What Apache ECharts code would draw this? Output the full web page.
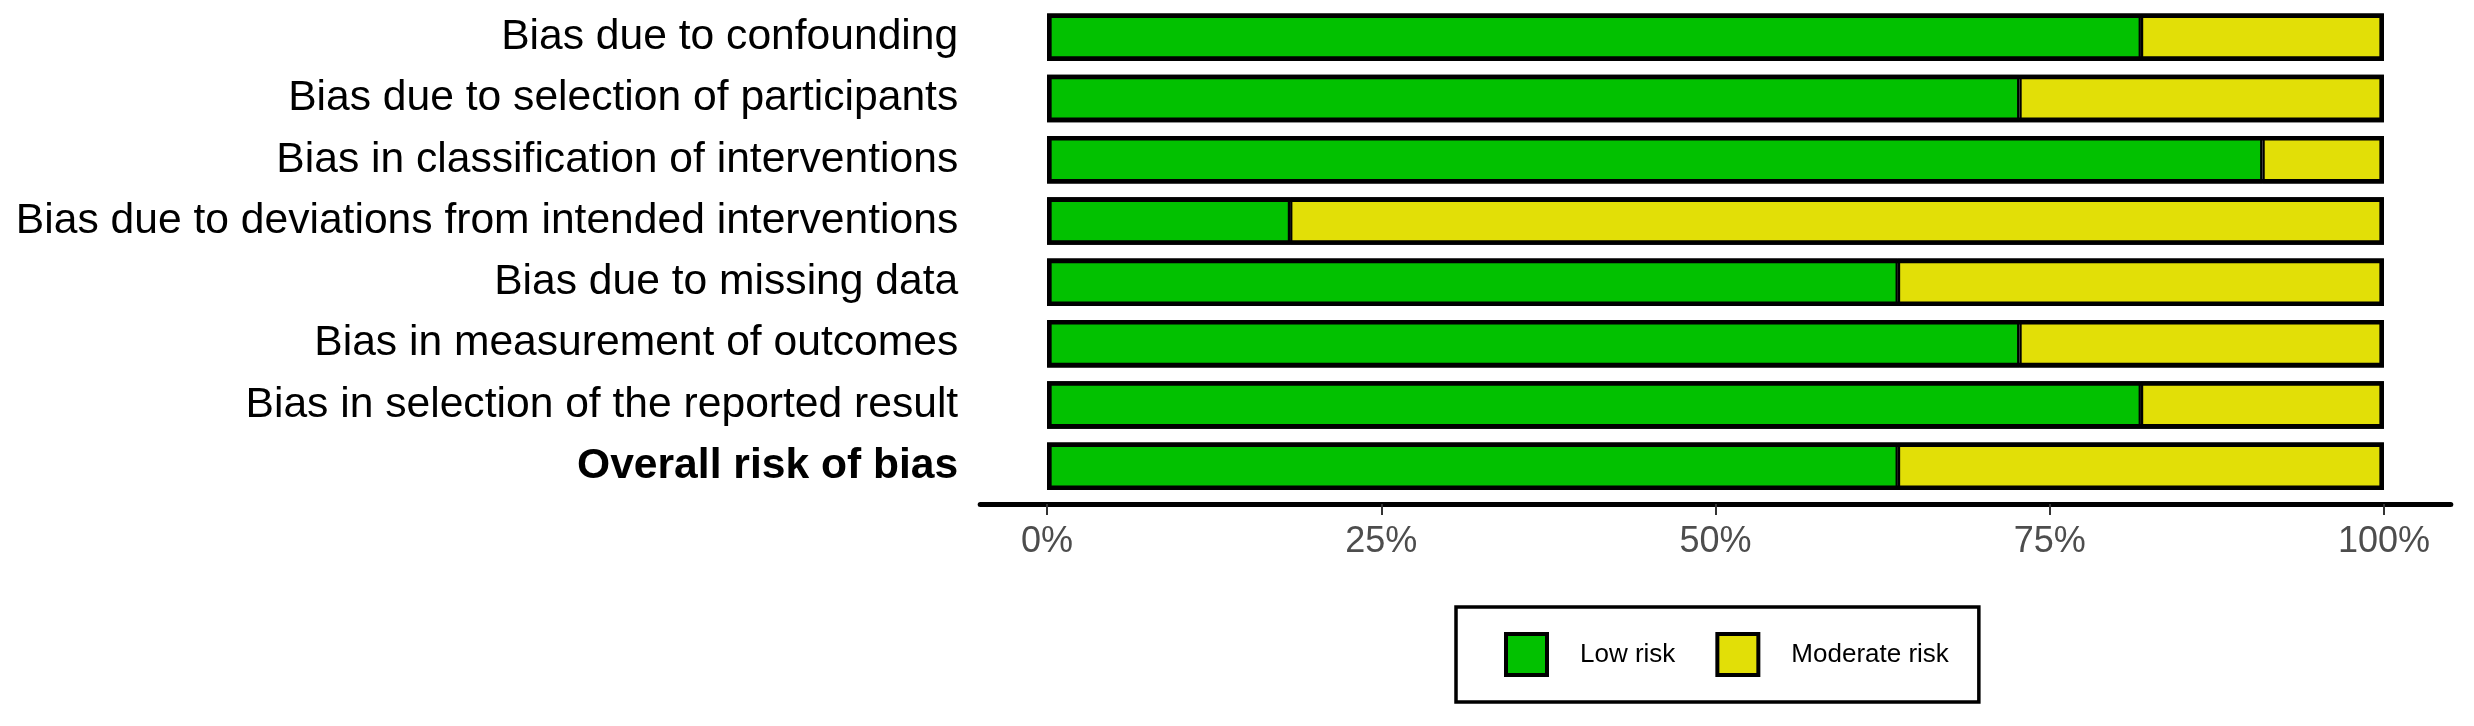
<!DOCTYPE html>
<html>
<head>
<meta charset="utf-8">
<script src="https://cdn.jsdelivr.net/npm/echarts@6/dist/echarts.min.js"></script>
<style>
html,body{margin:0;padding:0;background:#fff;}
#chart{width:2474px;height:726px;}
</style>
</head>
<body>
<div id="chart"></div>
<script>
const categories = [
  "Bias due to confounding",
  "Bias due to selection of participants",
  "Bias in classification of interventions",
  "Bias due to deviations from intended interventions",
  "Bias due to missing data",
  "Bias in measurement of outcomes",
  "Bias in selection of the reported result",
  "Overall risk of bias"
];
const lowRisk = [81.82, 72.73, 90.91, 18.18, 63.64, 72.73, 81.82, 63.64];
const moderateRisk = [18.18, 27.27, 9.09, 81.82, 36.36, 27.27, 18.18, 36.36];
const rowTotal = [100, 100, 100, 100, 100, 100, 100, 100];
const tickValues = [0, 25, 50, 75, 100];
const seriesNames = ["Low risk", "Moderate risk"];

const chart = echarts.init(document.getElementById('chart'));
const font = 'Liberation Sans, Arial, Helvetica, sans-serif';
const yData = categories.map((c, i) => i === categories.length - 1
  ? { value: c, textStyle: { fontWeight: 'bold' } } : c);

chart.setOption({
  animation: false,
  backgroundColor: '#ffffff',
  grid: { left: 980.2, width: 1470.6, top: 6.5, height: 490.4 },
  xAxis: {
    type: 'value', min: -5, max: 105,
    offset: 7,
    splitLine: { show: false },
    axisLine: { show: true, lineStyle: { color: '#000', width: 5 } },
    axisTick: { show: true, customValues: tickValues, length: 11, lineStyle: { color: '#333', width: 2 } },
    axisLabel: { customValues: tickValues, formatter: v => v + '%', color: '#4D4D4D', fontSize: 36, fontFamily: font, margin: 20 }
  },
  yAxis: {
    type: 'category', inverse: true, data: yData,
    axisLine: { show: false }, axisTick: { show: false },
    axisLabel: { color: '#000', fontSize: 42.6, fontFamily: font, margin: 22 }
  },
  legend: {
    data: seriesNames,
    left: 1456, top: 607,
    orient: 'horizontal',
    padding: [25, 30, 25, 48],
    borderColor: '#000', borderWidth: 3.5,
    itemWidth: 41, itemHeight: 41, itemGap: 40,
    icon: 'rect',
    itemStyle: { borderColor: '#000', borderWidth: 4 },
    textStyle: { fontSize: 26, fontFamily: font, color: '#000', padding: [0, 0, 0, 28] }
  },
  series: [
    { name: seriesNames[0], type: 'bar', stack: 'r', data: lowRisk, barWidth: 47.5,
      itemStyle: { color: '#02C100', borderColor: '#000', borderWidth: 2.3 } },
    { name: seriesNames[1], type: 'bar', stack: 'r', data: moderateRisk, barWidth: 47.5,
      itemStyle: { color: '#E2DF07', borderColor: '#000', borderWidth: 2.3 } },
    { name: 'outline', type: 'bar', data: rowTotal, barWidth: 47.5, barGap: '-100%', silent: true, z: 5,
      itemStyle: { color: 'rgba(0,0,0,0)', borderColor: '#000', borderWidth: 4.6 } }
  ]
});
</script>
</body>
</html>
